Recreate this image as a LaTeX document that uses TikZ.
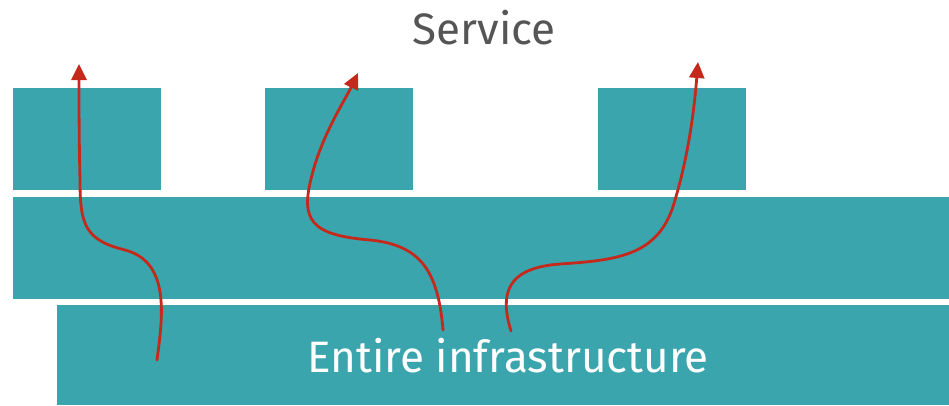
\documentclass[tikz,border=0pt]{standalone}
\usepackage{fontspec}
\setmainfont{Fira Sans}
\usetikzlibrary{arrows.meta}
\definecolor{teal}{HTML}{3AA5AD}
\definecolor{flowred}{HTML}{C5291C}
\definecolor{labelgray}{HTML}{555555}
\tikzset{
  block/.style={fill=teal, draw=none, inner sep=0pt, anchor=north west},
  flow/.style={draw=flowred, line width=2.8pt, line cap=round,
    -{Triangle[length=16pt, width=15pt]}},
  biglabel/.style={font=\fontsize{44}{50}\selectfont, inner sep=0pt, anchor=base}
}
\begin{document}
\begin{tikzpicture}[x=1pt, y=-1pt]
  \useasboundingbox (0,0) rectangle (949,405);

  % service boxes
  \node[block, minimum width=148pt, minimum height=102pt] (s1) at (13,88) {};
  \node[block, minimum width=148pt, minimum height=102pt] (s2) at (265,88) {};
  \node[block, minimum width=148pt, minimum height=102pt] (s3) at (598,88) {};

  % middle layer and infrastructure
  \node[block, minimum width=936pt, minimum height=102pt] (mid) at (13,197) {};
  \node[block, minimum width=892pt, minimum height=100pt] (infra) at (57,305) {};

  % labels
  \node[biglabel, text=labelgray] (service) at (484,44) {Service};
  \node[biglabel, text=white] (infratext) at (508,372) {Entire infrastructure};

  % flow start and end points
  \coordinate (a1) at (157,360);
  \coordinate (b1) at (79,64);
  \coordinate (a2) at (443,330);
  \coordinate (b2) at (358,73);
  \coordinate (a3) at (511,331);
  \coordinate (b3) at (698,62);

  % flows through the layers
  \draw[flow] (a1) .. controls (163,315) and (170,262) .. (125,250)
                   .. controls (85,240) and (80,225) .. (80,180)
                   .. controls (79,140) and (79,100) .. (b1);
  \draw[flow] (a2) .. controls (438,270) and (420,245) .. (370,240)
                   .. controls (310,235) and (300,220) .. (312,175)
                   .. controls (322,135) and (345,100) .. (b2);
  \draw[flow] (a3) .. controls (500,295) and (505,268) .. (560,264)
                   .. controls (620,260) and (660,255) .. (675,200)
                   .. controls (690,150) and (695,100) .. (b3);
\end{tikzpicture}
\end{document}
